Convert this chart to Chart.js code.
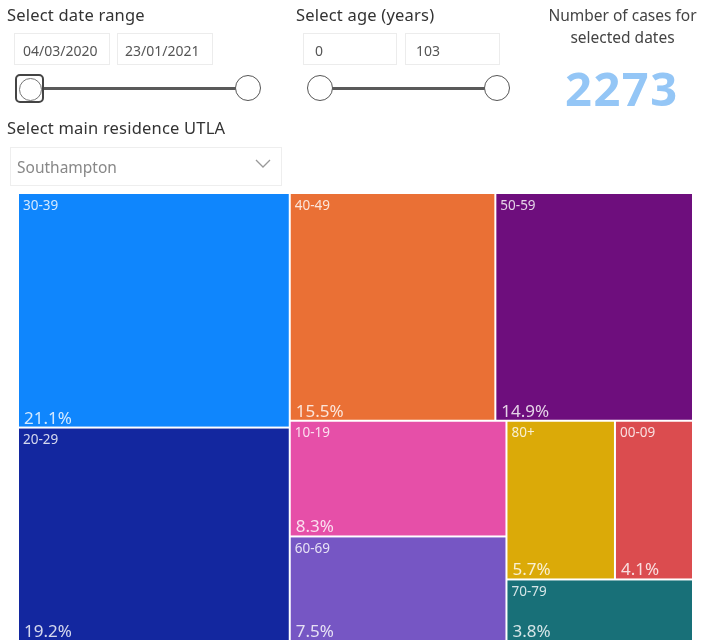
<!doctype html>
<html>
<head>
	<meta charset="utf-8">
	<title>Cases by age band</title>
	<script src="https://cdn.jsdelivr.net/npm/chart.js@4/dist/chart.umd.min.js"></script>
	<style>
		body {margin:0; background:#fff; font-family:"Noto Sans", "Open Sans", sans-serif; width:705px; height:644px; overflow:hidden; position:relative}
		#canvas {position:absolute; left:0; top:0}
		.lbl {position:absolute; font-size:16.5px; color:#333; white-space:nowrap; letter-spacing:0.2px}
		.box {position:absolute; border:1px solid #ececec; font-size:14px; color:#555; box-sizing:border-box; padding:7px 0 0 8px; height:32px; white-space:nowrap}
		.track {position:absolute; height:3px; background:#5a5a5a}
		.knob {position:absolute; width:26px; height:26px; border:1.5px solid #555; border-radius:50%; background:#fff; box-sizing:border-box}
		.knob.sel {border-radius:5px; border:2.5px solid #444; width:29px; height:29px}
		.knob.sel::after {content:""; position:absolute; left:1.5px; top:1.5px; width:21px; height:21px; border:1.5px solid #777; border-radius:50%}
		.card {position:absolute; text-align:center; color:#444; font-size:15.5px; line-height:22px; white-space:nowrap}
		.big {position:absolute; font-size:47px; font-weight:bold; color:#94c6f6; letter-spacing:1.5px}
		.drop {position:absolute; border:1px solid #eee; box-sizing:border-box; font-size:15.5px; color:#888; padding:8px 0 0 6px}
	</style>
</head>
<body>
	<canvas id="canvas" width="705" height="644"></canvas>

	<div class="lbl" style="left:7px; top:3px">Select date range</div>
	<div class="box" style="left:14px; top:33px; width:96px">04/03/2020</div>
	<div class="box" style="left:117px; top:33px; width:96px; padding-left:7px">23/01/2021</div>
	<div class="track" style="left:44px; top:87px; width:194px"></div>
	<div class="knob sel" style="left:15px; top:74px"></div>
	<div class="knob" style="left:235px; top:75px"></div>

	<div class="lbl" style="left:296px; top:3px">Select age (years)</div>
	<div class="box" style="left:303px; top:33px; width:94px; padding-left:11px">0</div>
	<div class="box" style="left:405px; top:33px; width:95px; padding-left:10px">103</div>
	<div class="track" style="left:330px; top:87px; width:157px"></div>
	<div class="knob" style="left:307px; top:75px"></div>
	<div class="knob" style="left:484px; top:75px"></div>

	<div class="card" style="left:540px; top:4px; width:165px">Number of cases for<br>selected dates</div>
	<div class="big" style="left:565px; top:56px">2273</div>

	<div class="lbl" style="left:7px; top:116px">Select main residence UTLA</div>
	<div class="drop" style="left:10px; top:147px; width:272px; height:39px">Southampton
		<svg style="position:absolute; right:10px; top:11px" width="16" height="10"><polyline points="1,1 8,8 15,1" fill="none" stroke="#999" stroke-width="1.3"/></svg>
	</div>

	<script>
		// age bands and their share of cases (%)
		var categories = ['30-39', '20-29', '40-49', '50-59', '10-19', '60-69', '80+', '00-09', '70-79'];
		var shares = [21.1, 19.2, 15.5, 14.9, 8.3, 7.5, 5.7, 4.1, 3.8];
		var palette = ['#0f86fd', '#13279f', '#ea7035', '#6e0e7d', '#e64fa8', '#7656c4', '#dbaa08', '#db4c4f', '#187078'];

		// squarified layout (golden ratio target), in chart units
		function squarify(nodes, x0, y0, x1, y1) {
			var ratio = (1 + Math.sqrt(5)) / 2;
			var value = nodes.reduce(function (s, n) { return s + n.value; }, 0);
			var i0 = 0, i1 = 0, n = nodes.length;
			while (i0 < n) {
				var dx = x1 - x0, dy = y1 - y0;
				var sum = nodes[i1++].value, min = sum, max = sum;
				var alpha = Math.max(dy / dx, dx / dy) / (value * ratio);
				var beta = sum * sum * alpha;
				var minRatio = Math.max(max / beta, beta / min);
				for (; i1 < n; ++i1) {
					var v = nodes[i1].value;
					sum += v;
					if (v < min) min = v;
					if (v > max) max = v;
					beta = sum * sum * alpha;
					var r = Math.max(max / beta, beta / min);
					if (r > minRatio) { sum -= v; break; }
					minRatio = r;
				}
				var row = nodes.slice(i0, i1);
				if (dx < dy) { // row along the top
					var yb = y0 + dy * sum / value, x = x0;
					row.forEach(function (nd) { var w = dx * nd.value / sum; nd.x0 = x; nd.x1 = x + w; nd.y0 = y0; nd.y1 = yb; x += w; });
					y0 = yb;
				} else { // column on the left
					var xb = x0 + dx * sum / value, y = y0;
					row.forEach(function (nd) { var h = dy * nd.value / sum; nd.x0 = x0; nd.x1 = xb; nd.y0 = y; nd.y1 = y + h; y += h; });
					x0 = xb;
				}
				value -= sum;
				i0 = i1;
			}
			return nodes;
		}

		var treemapPlugin = {
			id: 'treemap',
			afterDatasetsDraw: function (chart) {
				var ctx = chart.ctx, area = chart.chartArea;
				var xs = chart.scales.x, ys = chart.scales.y;
				var ar = (area.right - area.left) / (area.bottom - area.top);
				var nodes = categories.map(function (c, i) { return {label: c, value: shares[i], color: palette[i]}; })
					.sort(function (a, b) { return b.value - a.value; });
				squarify(nodes, 0, 0, 100 * ar, 100);
				ctx.save();
				nodes.forEach(function (nd) {
					var l = xs.getPixelForValue(nd.x0 / ar), r = xs.getPixelForValue(nd.x1 / ar);
					var t = ys.getPixelForValue(nd.y0), b = ys.getPixelForValue(nd.y1);
					l += 1; r -= 1; t += 1; b -= 1;
					ctx.fillStyle = nd.color;
					ctx.fillRect(l, t, r - l, b - t);
					ctx.save();
					ctx.beginPath();
					ctx.rect(l, t, r - l, b - t);
					ctx.clip();
					ctx.fillStyle = 'rgba(255,255,255,0.82)';
					ctx.textBaseline = 'top';
					ctx.font = '13.5px "Noto Sans", sans-serif';
					ctx.fillText(nd.label, l + 4, t + 5);
					ctx.textBaseline = 'alphabetic';
					ctx.font = '17px "Noto Sans", sans-serif';
					ctx.fillText(nd.value.toFixed(1) + '%', l + 5, b - 3);
					ctx.restore();
				});
				ctx.restore();
			}
		};

		var chart = null;
		function drawChart() {
			var ctx = document.getElementById('canvas').getContext('2d');
			chart = new Chart(ctx, {
				type: 'scatter',
				data: {datasets: [{data: []}]},
				options: {
					responsive: false,
					animation: false,
					layout: {padding: {left: 18, top: 193, right: 12, bottom: 3}},
					scales: {
						x: {type: 'linear', min: 0, max: 100, display: false},
						y: {type: 'linear', min: 0, max: 100, reverse: true, display: false}
					},
					plugins: {legend: {display: false}, tooltip: {enabled: false}}
				},
				plugins: [treemapPlugin]
			});
		}
		window.addEventListener('load', drawChart);
	</script>
</body>
</html>
